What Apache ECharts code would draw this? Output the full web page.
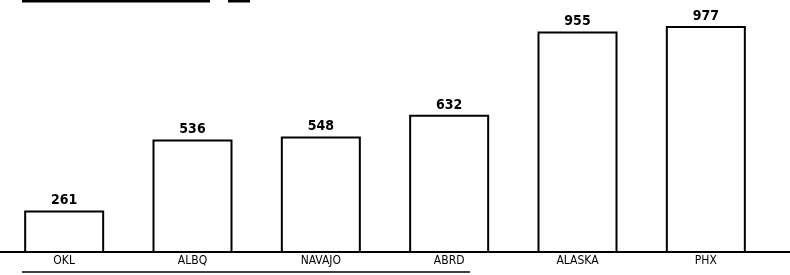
<!DOCTYPE html>
<html>
<head>
<meta charset="utf-8">
<script src="https://cdn.jsdelivr.net/npm/echarts@6/dist/echarts.min.js"></script>
<style>
  html, body { margin: 0; padding: 0; background: #fff; }
  #chart { width: 790px; height: 275px; }
</style>
</head>
<body>
<div id="chart"></div>
<script>
// 类别和数值
var categories = ['OKL', 'ALBQ', 'NAVAJO', 'ABRD', 'ALASKA', 'PHX'];
var values = [261, 536, 548, 632, 955, 977];

var chart = echarts.init(document.getElementById('chart'));

var option = {
    animation: false,
    backgroundColor: '#fff',
    grid: {
        left: -10,
        right: 20,
        top: 20,
        bottom: 23
    },
    xAxis: {
        type: 'category',
        data: categories,
        axisLine: { show: true, lineStyle: { color: '#000', width: 2 } },
        axisTick: { show: false },
        axisLabel: {
            color: '#000',
            fontFamily: 'DejaVu Sans Condensed',
            fontSize: 12,
            margin: 3
        }
    },
    yAxis: {
        type: 'value',
        min: 100,
        max: 1000,
        show: false,
        splitLine: { show: false }
    },
    series: [{
        type: 'bar',
        data: values,
        barWidth: 80,
        itemStyle: {
            color: '#fff',
            borderColor: '#000',
            borderWidth: 2
        },
        label: {
            show: true,
            position: 'top',
            distance: 3,
            color: '#000',
            fontFamily: 'DejaVu Sans Condensed',
            fontWeight: 'bold',
            fontSize: 14
        }
    }],
    // 扫描件上的残留线条
    graphic: [
        { type: 'line', shape: { x1: 22, y1: 1, x2: 210, y2: 1 }, style: { stroke: '#000', lineWidth: 3 } },
        { type: 'line', shape: { x1: 228, y1: 1, x2: 250, y2: 1 }, style: { stroke: '#000', lineWidth: 3 } },
        { type: 'line', shape: { x1: 760, y1: 252, x2: 790, y2: 252 }, style: { stroke: '#000', lineWidth: 2 } },
        { type: 'line', shape: { x1: 22, y1: 272, x2: 470, y2: 272 }, style: { stroke: '#000', lineWidth: 1.5 } }
    ]
};
chart.setOption(option);
</script>
</body>
</html>
